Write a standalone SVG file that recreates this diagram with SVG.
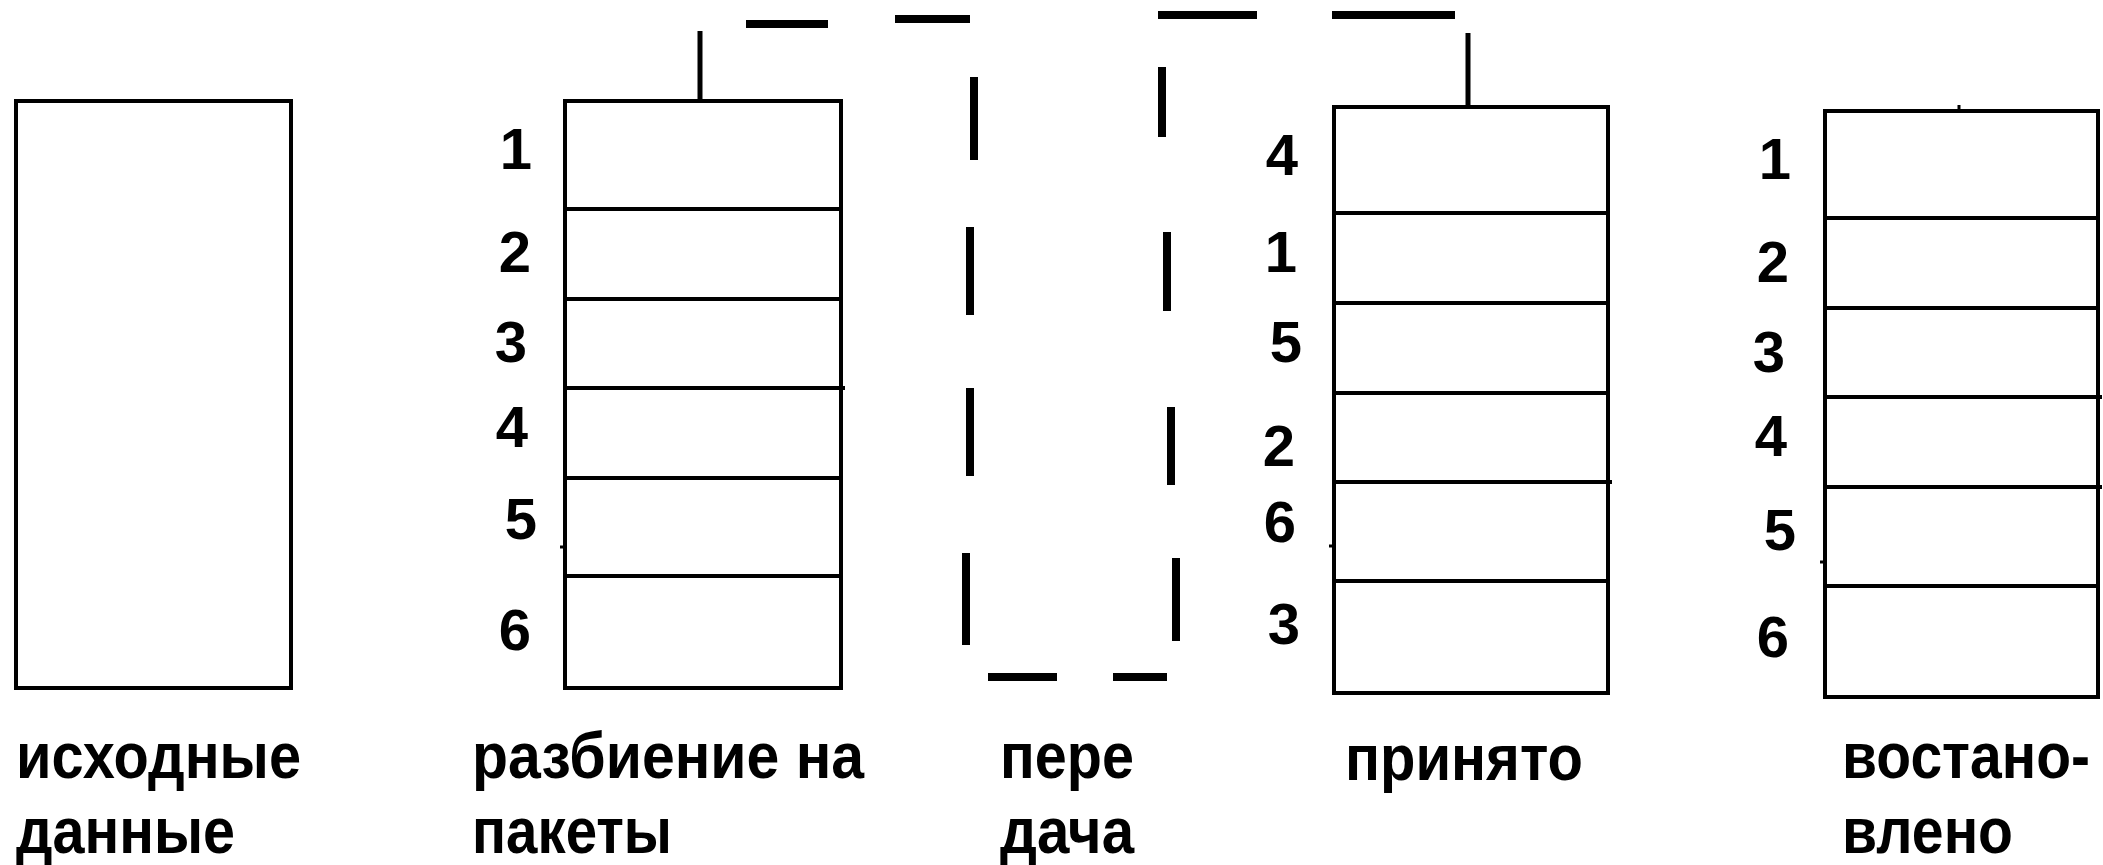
<svg xmlns="http://www.w3.org/2000/svg" width="2103" height="865" viewBox="0 0 2103 865">
<style>
.box{fill:none;stroke:#000;stroke-width:4}
.div{stroke:#000;stroke-width:4}
.num{font-family:"Liberation Sans",Arial,sans-serif;font-weight:bold;font-size:58px;fill:#000;text-anchor:middle}
.lbl{font-family:"Liberation Sans",Arial,sans-serif;font-weight:bold;font-size:64px;fill:#000}
.dash{stroke:#000;stroke-width:8;stroke-linecap:butt}
.conn{stroke:#000;stroke-width:5}
.tick{stroke:#000;stroke-width:3}
</style>
<rect width="2103" height="865" fill="#fff"/>
<g id="source">
<rect class="box" x="16" y="101" width="275" height="587"/>
<text class="lbl" x="16" y="778" textLength="285" lengthAdjust="spacingAndGlyphs">исходные</text>
<text class="lbl" x="16" y="853" textLength="219" lengthAdjust="spacingAndGlyphs">данные</text>
</g>
<g id="split">
<rect class="box" x="565" y="101" width="276" height="587"/>
<line class="div" x1="565" y1="209" x2="841" y2="209"/>
<line class="div" x1="565" y1="299" x2="841" y2="299"/>
<line class="div" x1="565" y1="388" x2="845" y2="388"/>
<line class="div" x1="565" y1="478" x2="841" y2="478"/>
<line class="div" x1="565" y1="576" x2="841" y2="576"/>
<line class="tick" x1="560" y1="547" x2="565" y2="547"/>
<text class="num" x="516" y="169">1</text>
<text class="num" x="515" y="272">2</text>
<text class="num" x="511" y="362">3</text>
<text class="num" x="512" y="447">4</text>
<text class="num" x="521" y="539">5</text>
<text class="num" x="515" y="650">6</text>
<text class="lbl" x="472" y="778" textLength="392" lengthAdjust="spacingAndGlyphs">разбиение на</text>
<text class="lbl" x="472" y="853" textLength="200" lengthAdjust="spacingAndGlyphs">пакеты</text>
</g>
<g id="transfer">
<text class="lbl" x="1000" y="778" textLength="134" lengthAdjust="spacingAndGlyphs">пере</text>
<text class="lbl" x="1000" y="853" textLength="134" lengthAdjust="spacingAndGlyphs">дача</text>
</g>
<g id="received">
<rect class="box" x="1334" y="107" width="274" height="586"/>
<line class="div" x1="1334" y1="213" x2="1608" y2="213"/>
<line class="div" x1="1334" y1="303" x2="1608" y2="303"/>
<line class="div" x1="1334" y1="393" x2="1608" y2="393"/>
<line class="div" x1="1334" y1="482" x2="1612" y2="482"/>
<line class="div" x1="1334" y1="581" x2="1608" y2="581"/>
<line class="tick" x1="1329" y1="546" x2="1334" y2="546"/>
<text class="num" x="1282" y="175">4</text>
<text class="num" x="1281" y="272">1</text>
<text class="num" x="1286" y="362">5</text>
<text class="num" x="1279" y="466">2</text>
<text class="num" x="1280" y="542">6</text>
<text class="num" x="1284" y="644">3</text>
<text class="lbl" x="1345" y="780" textLength="238" lengthAdjust="spacingAndGlyphs">принято</text>
</g>
<g id="restored">
<rect class="box" x="1825" y="111" width="273" height="586"/>
<line class="div" x1="1825" y1="218" x2="2098" y2="218"/>
<line class="div" x1="1825" y1="308" x2="2098" y2="308"/>
<line class="div" x1="1825" y1="397" x2="2102" y2="397"/>
<line class="div" x1="1825" y1="487" x2="2102" y2="487"/>
<line class="div" x1="1825" y1="586" x2="2098" y2="586"/>
<line class="tick" x1="1820" y1="562" x2="1825" y2="562"/>
<line class="tick" x1="1959" y1="105" x2="1959" y2="111"/>
<text class="num" x="1775" y="179">1</text>
<text class="num" x="1773" y="282">2</text>
<text class="num" x="1769" y="372">3</text>
<text class="num" x="1771" y="456">4</text>
<text class="num" x="1780" y="550">5</text>
<text class="num" x="1773" y="657">6</text>
<text class="lbl" x="1842" y="778" textLength="248" lengthAdjust="spacingAndGlyphs">востано-</text>
<text class="lbl" x="1842" y="853" textLength="171" lengthAdjust="spacingAndGlyphs">влено</text>
</g>
<g id="connectors">
<line class="conn" x1="700" y1="31" x2="700" y2="101"/>
<line class="dash" x1="746" y1="24" x2="828" y2="24"/>
<line class="dash" x1="895" y1="19" x2="970" y2="19"/>
<line class="dash" x1="974" y1="77" x2="974" y2="160"/>
<line class="dash" x1="970" y1="227" x2="970" y2="315"/>
<line class="dash" x1="970" y1="388" x2="970" y2="476"/>
<line class="dash" x1="966" y1="553" x2="966" y2="645"/>
<line class="dash" x1="988" y1="677" x2="1057" y2="677"/>
<line class="dash" x1="1113" y1="677" x2="1167" y2="677"/>
<line class="dash" x1="1176" y1="558" x2="1176" y2="641"/>
<line class="dash" x1="1171" y1="407" x2="1171" y2="485"/>
<line class="dash" x1="1167" y1="232" x2="1167" y2="311"/>
<line class="dash" x1="1162" y1="67" x2="1162" y2="137"/>
<line class="dash" x1="1158" y1="15" x2="1257" y2="15"/>
<line class="dash" x1="1332" y1="15" x2="1455" y2="15"/>
<line class="conn" x1="1468" y1="33" x2="1468" y2="107"/>
</g>
</svg>
